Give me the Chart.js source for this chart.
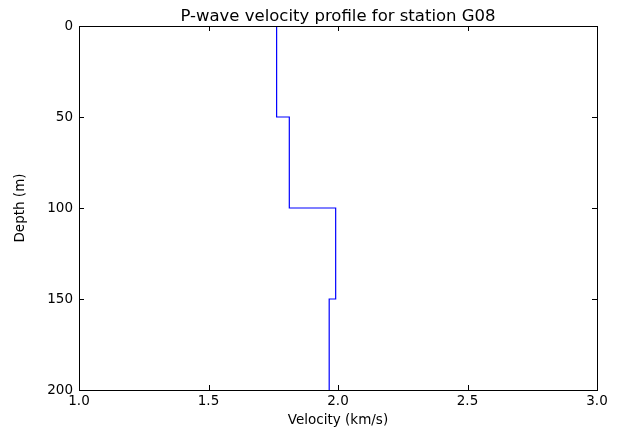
<!DOCTYPE html>
<html><head><meta charset="utf-8">
<script src="https://cdn.jsdelivr.net/npm/chart.js@4/dist/chart.umd.min.js"></script>
<style>html,body{margin:0;padding:0;background:#fff;}#wrap{width:617px;height:433px;}</style>
</head><body><div id="wrap"><canvas id="c" width="617" height="433"></canvas></div>
<script>
const depths = [0, 50, 50, 100, 100, 150, 150, 200];
const velocities = [1.763, 1.763, 1.812, 1.812, 1.991, 1.991, 1.966, 1.966];
const xTicks = [1.0, 1.5, 2.0, 2.5, 3.0];
const yTicks = [0, 50, 100, 150, 200];
const titleText = 'P-wave velocity profile for station G08';
const xTitle = 'Velocity (km/s)';
const yTitle = 'Depth (m)';

const FONT = 'DejaVu Sans';
const pts = velocities.map((v, i) => ({x: v, y: depths[i]}));

const framePlugin = {
  id: 'frame',
  afterDraw(chart) {
    const {ctx, chartArea: a, scales} = chart;
    ctx.save();
    ctx.strokeStyle = '#000';
    ctx.lineWidth = 1;
    ctx.strokeRect(Math.round(a.left) + 0.5, Math.round(a.top) + 0.5, Math.round(a.right - a.left), Math.round(a.bottom - a.top));
    const L = 5;
    ctx.beginPath();
    xTicks.forEach(t => {
      const px = Math.round(scales.x.getPixelForValue(t)) + 0.5;
      ctx.moveTo(px, a.bottom); ctx.lineTo(px, a.bottom - L);
      ctx.moveTo(px, a.top); ctx.lineTo(px, a.top + L);
    });
    yTicks.forEach(t => {
      const py = Math.round(scales.y.getPixelForValue(t)) + 0.5;
      ctx.moveTo(a.left, py); ctx.lineTo(a.left + L, py);
      ctx.moveTo(a.right, py); ctx.lineTo(a.right - L, py);
    });
    ctx.stroke();
    ctx.fillStyle = '#000';
    ctx.font = '16.5px "' + FONT + '"';
    ctx.textAlign = 'center';
    ctx.textBaseline = 'alphabetic';
    ctx.fillText(titleText, (a.left + a.right) / 2, 21);
    ctx.restore();
  }
};

new Chart(document.getElementById('c'), {
  type: 'scatter',
  data: {datasets: [{data: pts, showLine: true, borderColor: '#0000ff', borderWidth: 1.2, pointRadius: 0, fill: false, tension: 0}]},
  options: {
    responsive: false, animation: false,
    layout: {padding: {top: 26, right: 20, left: 0, bottom: 0}},
    plugins: {legend: {display: false}, tooltip: {enabled: false}, title: {display: false}},
    scales: {
      x: {
        type: 'linear', min: 1, max: 3,
        afterBuildTicks: s => { s.ticks = xTicks.map(v => ({value: v})); },
        afterFit: s => { s.height = 43; },
        grid: {display: false, drawTicks: false},
        border: {display: false},
        ticks: {color: '#000', font: {family: FONT, size: 13.5}, padding: 3, maxRotation: 0, callback: v => v.toFixed(1)},
        title: {display: true, text: xTitle, color: '#000', font: {family: FONT, size: 13.5}, padding: {top: 0, bottom: 4}}
      },
      y: {
        type: 'linear', min: 0, max: 200, reverse: true,
        afterBuildTicks: s => { s.ticks = yTicks.map(v => ({value: v})); },
        afterFit: s => { s.width = 79; },
        grid: {display: false, drawTicks: false},
        border: {display: false},
        ticks: {color: '#000', font: {family: FONT, size: 13.5}, padding: 6, callback: v => String(v)},
        title: {display: true, text: yTitle, color: '#000', font: {family: FONT, size: 13.5}, padding: {top: 12, bottom: 0}}
      }
    }
  },
  plugins: [framePlugin]
});
</script></body></html>
